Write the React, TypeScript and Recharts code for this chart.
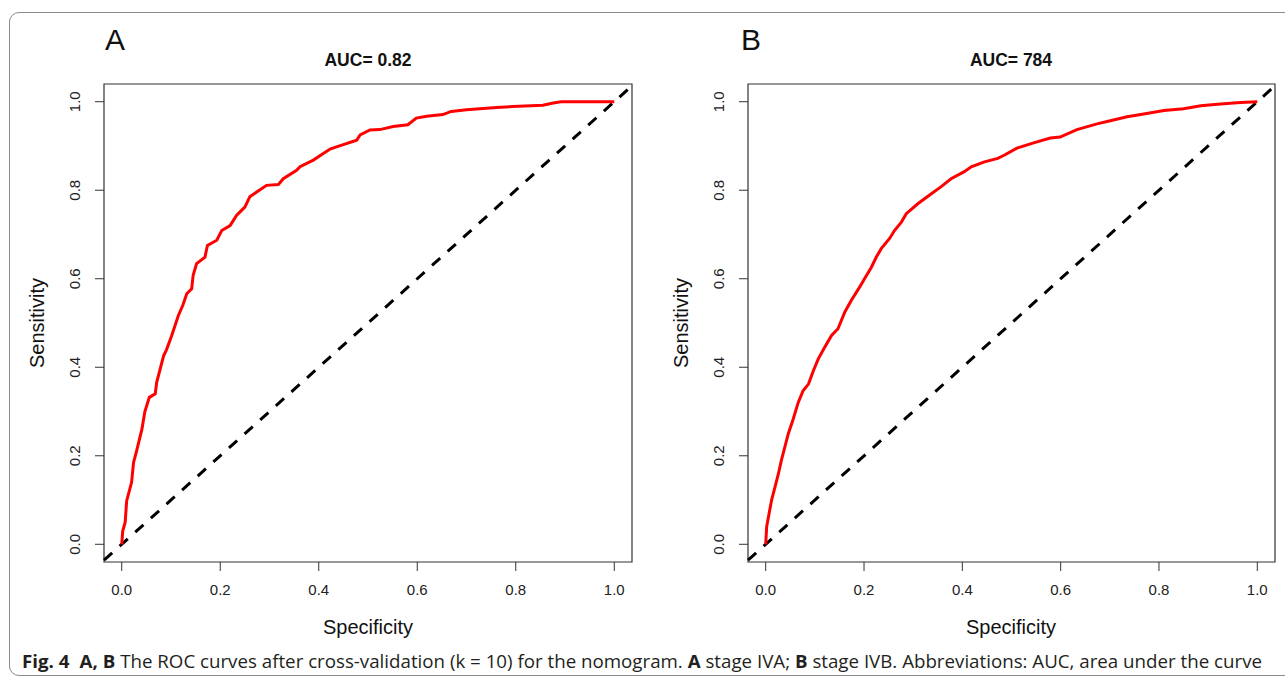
import React from 'react';
import {
  LineChart,
  Line,
  XAxis,
  YAxis,
  ReferenceArea,
  ReferenceLine,
} from 'recharts';

// panel A, stage IVA
const fprA = [
  0, 0.002, 0.007, 0.01, 0.02, 0.024, 0.03, 0.041, 0.047, 0.056, 0.068, 0.071,
  0.085, 0.091, 0.101, 0.115, 0.124, 0.132, 0.142, 0.145, 0.152, 0.169, 0.174,
  0.193, 0.203, 0.22, 0.233, 0.25, 0.26, 0.274, 0.294, 0.318, 0.328, 0.355,
  0.362, 0.389, 0.423, 0.436, 0.477, 0.484, 0.504, 0.524, 0.551, 0.581, 0.598,
  0.619, 0.652, 0.669, 0.7, 0.727, 0.761, 0.794, 0.855, 0.876, 0.892, 1.0,
];
const tprA = [
  0, 0.03, 0.05, 0.098, 0.14, 0.185, 0.21, 0.26, 0.3, 0.332, 0.34, 0.366,
  0.426, 0.44, 0.47, 0.517, 0.54, 0.566, 0.577, 0.608, 0.634, 0.649, 0.675,
  0.687, 0.709, 0.72, 0.743, 0.762, 0.785, 0.796, 0.811, 0.813, 0.826, 0.845,
  0.853, 0.868, 0.893, 0.898, 0.913, 0.925, 0.936, 0.937, 0.944, 0.948, 0.963,
  0.967, 0.971, 0.978, 0.982, 0.984, 0.987, 0.989, 0.992, 0.997, 1.0, 1.0,
];

// panel B, stage IVB
const fprB = [
  0, 0.002, 0.007, 0.012, 0.019, 0.026, 0.032, 0.039, 0.046, 0.056, 0.066,
  0.076, 0.087, 0.097, 0.107, 0.12, 0.134, 0.147, 0.161, 0.174, 0.191, 0.201,
  0.215, 0.225, 0.235, 0.252, 0.262, 0.276, 0.286, 0.31, 0.337, 0.357, 0.377,
  0.404, 0.418, 0.445, 0.472, 0.485, 0.511, 0.545, 0.579, 0.599, 0.633, 0.674,
  0.701, 0.735, 0.769, 0.81, 0.85, 0.885, 0.925, 0.966, 1.0,
];
const tprB = [
  0, 0.04, 0.07, 0.1, 0.13, 0.16, 0.19, 0.22, 0.25, 0.283, 0.32, 0.347, 0.362,
  0.392, 0.419, 0.445, 0.472, 0.487, 0.525, 0.551, 0.581, 0.6, 0.626, 0.649,
  0.668, 0.691, 0.709, 0.728, 0.747, 0.77, 0.792, 0.808, 0.826, 0.842, 0.853,
  0.864, 0.872, 0.879, 0.895, 0.907, 0.918, 0.92, 0.937, 0.95, 0.957, 0.966,
  0.972, 0.98, 0.984, 0.991, 0.995, 0.998, 1.0,
];

const axisTicks = [0, 0.2, 0.4, 0.6, 0.8, 1];
const panelLetters = ['A', 'B'];
const aucTitles = ['AUC= 0.82', 'AUC= 784'];
const xDomain = [-0.036, 1.036];
const yDomain = [-0.04, 1.04];

const arial = '"Liberation Sans", Arial, sans-serif';

const YTick = (props: any) => {
  const { x, y, payload } = props;
  return (
    <text
      x={x}
      y={y}
      transform={`rotate(-90 ${x} ${y})`}
      textAnchor='middle'
      dominantBaseline='central'
      fontSize={15}
      fontFamily={arial}
      fill='#222'
    >
      {Number(payload.value).toFixed(1)}
    </text>
  );
};

function RocPanel({
  fpr,
  tpr,
  width,
  marginLeft,
  marginRight,
}: {
  fpr: number[];
  tpr: number[];
  width: number;
  marginLeft: number;
  marginRight: number;
}) {
  const rows = fpr.map((x, i) => ({ x, y: tpr[i] }));
  return (
    <LineChart
      width={width}
      height={678}
      data={rows}
      margin={{ top: 84, right: marginRight, bottom: 86, left: marginLeft }}
    >
      <XAxis
        dataKey='x'
        type='number'
        domain={xDomain}
        ticks={axisTicks}
        allowDataOverflow
        interval={0}
        axisLine={false}
        tickLine={{ stroke: '#333' }}
        tickSize={9}
        tickMargin={13}
        tickFormatter={(v: number) => v.toFixed(1)}
        tick={{ fontSize: 15, fontFamily: arial, fill: '#222' }}
      />
      <YAxis
        type='number'
        domain={yDomain}
        ticks={axisTicks}
        allowDataOverflow
        interval={0}
        width={60}
        axisLine={false}
        tickLine={{ stroke: '#333' }}
        tickSize={9}
        tickMargin={20}
        tick={<YTick />}
      />
      <ReferenceArea
        x1={xDomain[0]}
        x2={xDomain[1]}
        y1={yDomain[0]}
        y2={yDomain[1]}
        fill='none'
        stroke='#333'
        strokeWidth={1.2}
        ifOverflow='visible'
      />
      <ReferenceLine
        segment={[
          { x: xDomain[0], y: xDomain[0] },
          { x: xDomain[1], y: xDomain[1] },
        ]}
        stroke='#000'
        strokeWidth={3}
        strokeDasharray='11 10'
        ifOverflow='visible'
      />
      <Line
        dataKey='y'
        type='linear'
        stroke='#ff0000'
        strokeWidth={3}
        dot={false}
        activeDot={false}
        isAnimationActive={false}
      />
    </LineChart>
  );
}

// plot box centres and left edges, used for the overlay text
const boxCenters = [368, 1011];
const boxLefts = [104, 748];
const letterLefts = [105, 741];

export default function App() {
  return (
    <div
      style={{
        position: 'absolute',
        left: 0,
        top: 0,
        width: 1285,
        height: 678,
        overflow: 'hidden',
        background: '#fff',
      }}
    >
      <div
        style={{
          position: 'absolute',
          left: 9,
          top: 12,
          width: 1320,
          height: 664,
          border: '1.5px solid #8a8a8a',
          borderRadius: 10,
          boxSizing: 'border-box',
        }}
      />
      <div style={{ position: 'absolute', left: 0, top: 0 }}>
        <RocPanel fpr={fprA} tpr={tprA} width={640} marginLeft={44} marginRight={8} />
      </div>
      <div style={{ position: 'absolute', left: 640, top: 0 }}>
        <RocPanel fpr={fprB} tpr={tprB} width={645} marginLeft={48} marginRight={10} />
      </div>
      <svg
        width={1285}
        height={678}
        style={{ position: 'absolute', left: 0, top: 0, pointerEvents: 'none' }}
      >
        {panelLetters.map((p, i) => (
          <text
            key={p}
            x={letterLefts[i]}
            y={50}
            fontSize={30}
            fontFamily='"Liberation Sans Narrow", "Liberation Sans", sans-serif'
            fill='#111'
          >
            {p}
          </text>
        ))}
        {aucTitles.map((t, i) => (
          <text
            key={t}
            x={boxCenters[i]}
            y={66}
            textAnchor='middle'
            fontSize={17.5}
            fontWeight='bold'
            fontFamily={arial}
            fill='#111'
          >
            {t}
          </text>
        ))}
        {boxCenters.map((c, i) => (
          <text
            key={'sp' + i}
            x={c}
            y={634}
            textAnchor='middle'
            fontSize={20}
            fontFamily={arial}
            fill='#111'
          >
            Specificity
          </text>
        ))}
        {boxLefts.map((l, i) => (
          <text
            key={'se' + i}
            transform={`translate(${l - 60} 323) rotate(-90)`}
            textAnchor='middle'
            fontSize={20}
            fontFamily={arial}
            fill='#111'
          >
            Sensitivity
          </text>
        ))}
        <text
          x={22}
          y={668}
          fontSize={18.5}
          fontFamily='"Open Sans", "Noto Sans", sans-serif'
          fill='#231f20'
          textLength={1240}
          lengthAdjust='spacingAndGlyphs'
        >
          <tspan fontWeight='bold'>Fig. 4</tspan>
          <tspan dx={10} fontWeight='bold'>A, B</tspan>
          <tspan> The ROC curves after cross-validation (k = 10) for the nomogram. </tspan>
          <tspan fontWeight='bold'>A</tspan>
          <tspan> stage IVA; </tspan>
          <tspan fontWeight='bold'>B</tspan>
          <tspan> stage IVB. Abbreviations: AUC, area under the curve</tspan>
        </text>
      </svg>
    </div>
  );
}
